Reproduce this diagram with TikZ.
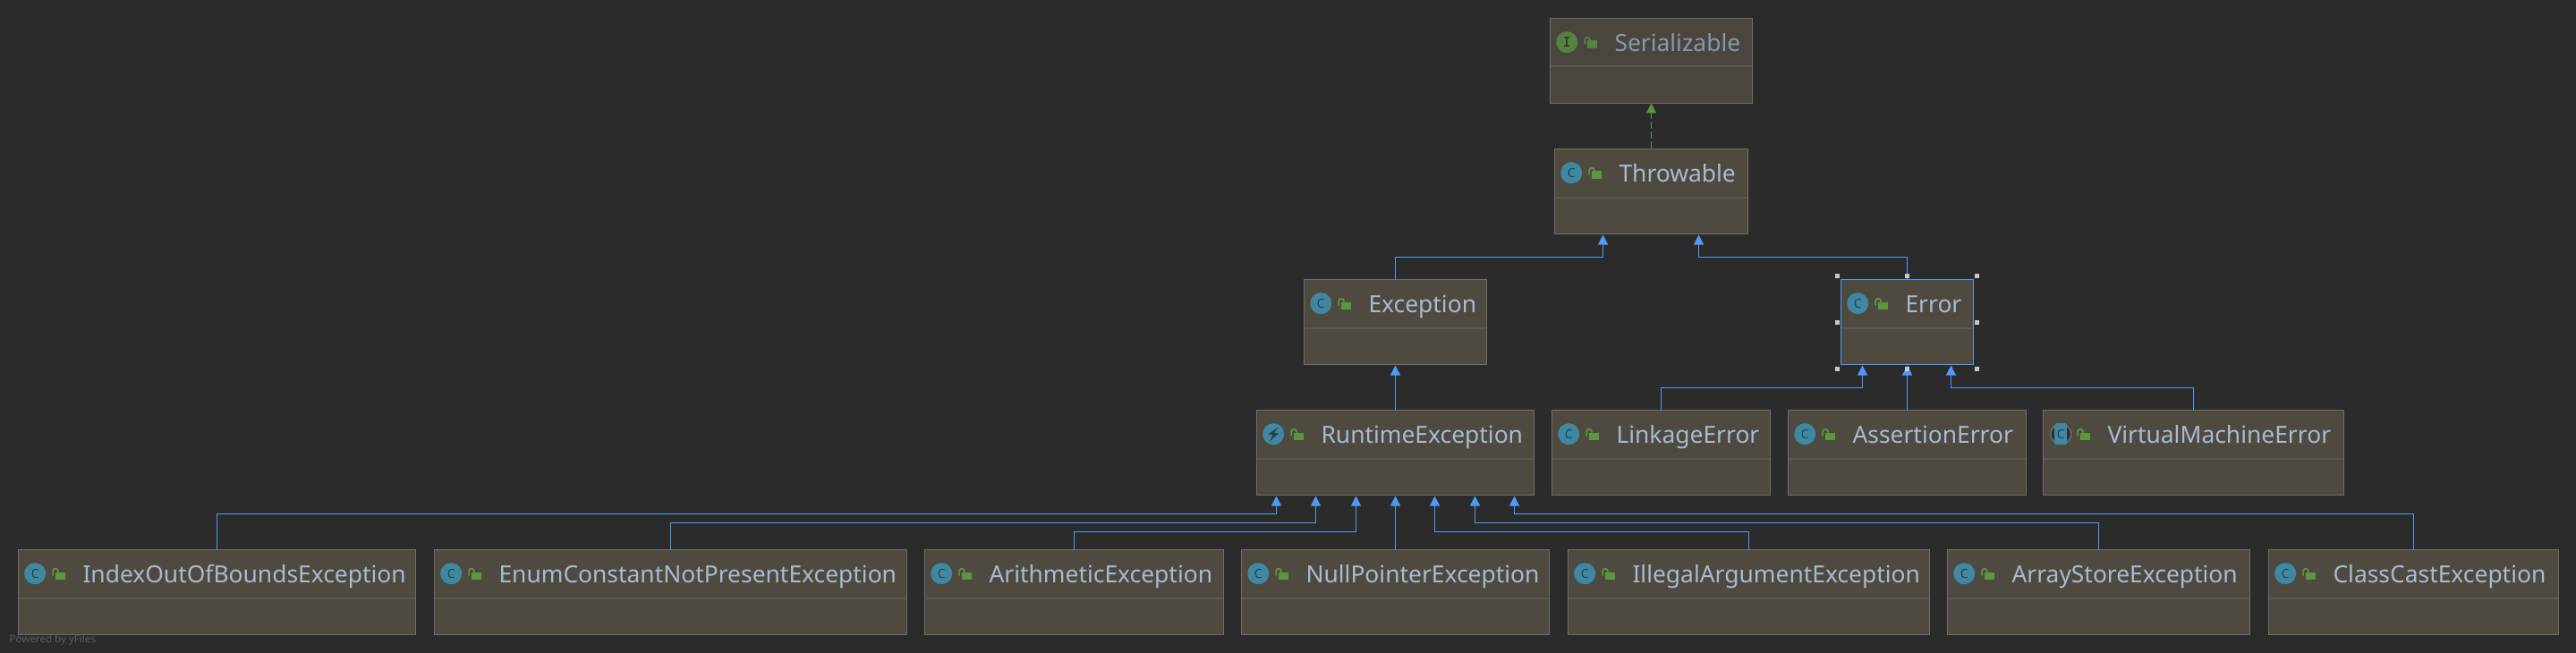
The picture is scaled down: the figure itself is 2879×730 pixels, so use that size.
\documentclass[tikz,border=0pt]{standalone}
\usepackage{fontspec}
\setmainfont{Noto Sans}
\newfontfamily\monoicon{DejaVu Sans Mono}
\usetikzlibrary{arrows.meta}
\definecolor{bgc}{HTML}{2B2B2B}
\definecolor{fillc}{HTML}{4F4A3F}
\definecolor{dimfill}{HTML}{4A463F}
\definecolor{borderc}{HTML}{6E6E6A}
\definecolor{divc}{HTML}{5A5650}
\definecolor{textc}{HTML}{A8BAD2}
\definecolor{dimtext}{HTML}{8998A9}
\definecolor{bluec}{HTML}{4F9AF7}
\definecolor{greenc}{HTML}{5C9640}
\definecolor{dimgreen}{HTML}{55823C}
\definecolor{tealc}{HTML}{3F88A3}
\definecolor{darkc}{HTML}{2A3F4A}
\definecolor{handlec}{HTML}{C8C8C8}
\definecolor{greyc}{HTML}{77746E}
\definecolor{yfilesc}{HTML}{5D5D5D}
\colorlet{curfill}{fillc}
\colorlet{curtext}{textc}
\colorlet{curborder}{borderc}
\colorlet{curgreen}{greenc}
\tikzset{
  umlbox/.style={draw=curborder,fill=curfill,line width=1.1pt,inner sep=0pt,outer sep=0pt,anchor=north west},
  umltext/.style={anchor=base west,inner sep=0pt,outer sep=0pt,text=curtext,font=\fontsize{26.4}{30}\selectfont},
  iconletter/.style={inner sep=0pt,outer sep=0pt,text=darkc,font=\fontsize{14}{18}\selectfont},
  inh/.style={draw=bluec,line width=1.1pt,-{Triangle[width=11pt,length=11pt,fill=bluec]}},
  impl/.style={draw=greenc,line width=1.1pt,dash pattern=on 8pt off 3pt,-{Triangle[width=11pt,length=11pt,fill=greenc]}},
}
% icons, in box-local coordinates
\newcommand{\lockicon}{%
  \fill[curgreen] (41.4,25) rectangle (52,33.7);
  \draw[curgreen,line width=1.7pt] (38.6,29) -- (38.6,24) arc[start angle=180,end angle=0,radius=2.9pt] -- (44.4,25);}
\newcommand{\classicon}[1]{%
  \fill[tealc] (18.7,26.7) circle[radius=12pt];
  \node[iconletter] (#1-c) at (18.7,26.7) {C};}
\newcommand{\ifaceicon}[1]{%
  \fill[curgreen] (18.7,26.7) circle[radius=12pt];
  \node[iconletter,font=\monoicon\fontsize{15}{18}\selectfont,text=bgc] (#1-c) at (18.7,26.7) {I};}
\newcommand{\runicon}[1]{%
  \fill[tealc] (18.7,26.7) circle[radius=12pt];
  \fill[darkc] (24.4,18.7) -- (13,27) -- (18,27.7) -- (14,35.4) -- (24.7,26) -- (19.4,25.4) -- cycle;}
\newcommand{\vmicon}[1]{%
  \fill[greyc] (19.7,26.7) circle[radius=12pt];
  \fill[bgc] (19.7,26.7) circle[radius=10.6pt];
  \fill[tealc,rounded corners=2.5pt] (12.7,14.7) rectangle (26.7,38.7);
  \node[iconletter] (#1-c) at (19.7,26.7) {C};}
% name, left, top, right, text, icon macro
\newcommand{\umlnode}[6]{%
  \node[umlbox,minimum width={(#4-#2)*1pt},minimum height=95pt] (#1) at (#2,#3) {};
  \fill[divc] (#2+0.5,#3+53) rectangle (#4-0.5,#3+55);
  \begin{scope}[shift={(#2,#3)}]
    #6{#1}
    \lockicon
    \node[umltext] (#1-t) at (72,37) {#5};
  \end{scope}}
\begin{document}
\begin{tikzpicture}[x=1pt,y=-1pt]
\useasboundingbox (0,0) rectangle (2879,730);
\fill[bgc] (0,0) rectangle (2879,730);

% boxes
\begingroup
\colorlet{curfill}{dimfill}\colorlet{curtext}{dimtext}\colorlet{curgreen}{dimgreen}
\umlnode{ser}{1732.5}{20.5}{1958.5}{Serializable}{\ifaceicon}
\endgroup
\umlnode{thr}{1737.5}{166.5}{1953.5}{Throwable}{\classicon}
\umlnode{exc}{1457.5}{312.5}{1661.5}{Exception}{\classicon}
\begingroup
\colorlet{curborder}{bluec}
\umlnode{err}{2057.5}{312.5}{2205.5}{Error}{\classicon}
\endgroup
\umlnode{rte}{1404.5}{458.5}{1714.5}{RuntimeException}{\runicon}
\umlnode{lnk}{1734.5}{458.5}{1978.5}{LinkageError}{\classicon}
\umlnode{asr}{1998.5}{458.5}{2264.5}{AssertionError}{\classicon}
\umlnode{vme}{2283.5}{458.5}{2619.5}{VirtualMachineError}{\vmicon}
\umlnode{idx}{20.5}{614.5}{464.5}{IndexOutOfBoundsException}{\classicon}
\umlnode{enm}{485.5}{614.5}{1013.5}{EnumConstantNotPresentException}{\classicon}
\umlnode{ari}{1033.5}{614.5}{1367.5}{ArithmeticException}{\classicon}
\umlnode{npe}{1387.5}{614.5}{1731.5}{NullPointerException}{\classicon}
\umlnode{ill}{1752.5}{614.5}{2156.5}{IllegalArgumentException}{\classicon}
\umlnode{ast}{2176.5}{614.5}{2514.5}{ArrayStoreException}{\classicon}
\umlnode{cce}{2535.5}{614.5}{2859.5}{ClassCastException}{\classicon}

% attachment points on the targets
\coordinate (thrA) at (1791.5,262.5);
\coordinate (thrB) at (1898.5,262.5);
\coordinate (errA) at (2081.5,408.5);
\coordinate (errB) at (2131.5,408.5);
\coordinate (errC) at (2180.5,408.5);
\coordinate (excB) at (1559.5,408.5);
\coordinate (rt1) at (1426.5,554.5);
\coordinate (rt2) at (1470.5,554.5);
\coordinate (rt3) at (1515.5,554.5);
\coordinate (rt4) at (1559.5,554.5);
\coordinate (rt5) at (1603.5,554.5);
\coordinate (rt6) at (1648.5,554.5);
\coordinate (rt7) at (1692.5,554.5);
% rails
\coordinate (r1) at (0,574.5);
\coordinate (r2) at (0,584.5);
\coordinate (r3) at (0,594.5);
\coordinate (rE) at (0,433.5);
\coordinate (rT) at (0,287.5);

% connectors
\draw[impl] (thr.north) -- (ser.south);
\draw[inh] (exc.north) |- (rT -| thrA) -- (thrA);
\draw[inh] (err.north) |- (rT -| thrB) -- (thrB);
\draw[inh] (rte.north) -- (excB);
\draw[inh] (lnk.north) |- (rE -| errA) -- (errA);
\draw[inh] (asr.north) -- (errB);
\draw[inh] (vme.north) |- (rE -| errC) -- (errC);
\draw[inh] (idx.north) |- (r1 -| rt1) -- (rt1);
\draw[inh] (enm.north) |- (r2 -| rt2) -- (rt2);
\draw[inh] (ari.north) |- (r3 -| rt3) -- (rt3);
\draw[inh] (npe.north) -- (rt4);
\draw[inh] (ill.north) |- (r3 -| rt5) -- (rt5);
\draw[inh] (ast.north) |- (r2 -| rt6) -- (rt6);
\draw[inh] (cce.north) |- (r1 -| rt7) -- (rt7);

% selection handles of Error
\foreach \hx/\hy in {2053.7/308.5,2131.3/308.5,2209.4/308.5,2053.7/360.5,2209.4/360.5,2053.7/412.5,2131.3/412.5,2209.4/412.5}
  \fill[handlec] (\hx-2.4,\hy-2.4) rectangle (\hx+2.4,\hy+2.4);

\node[anchor=base west,inner sep=0pt,text=yfilesc,font=\fontsize{11.6}{15}\selectfont] (yf) at (10.3,718) {Powered by yFiles};
\end{tikzpicture}
\end{document}
